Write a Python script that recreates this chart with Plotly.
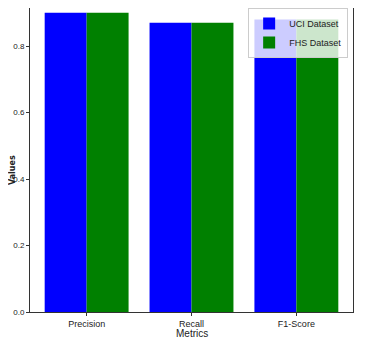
import plotly.graph_objects as go

metrics = ["Precision", "Recall", "F1-Score"]
uci_values = [0.90, 0.87, 0.88]
fhs_values = [0.90, 0.87, 0.88]
y_ticks = [0.0, 0.2, 0.4, 0.6, 0.8]
y_tick_labels = ["0.0", "0.2", "0.4", "0.6", "0.8"]

font_family = "Liberation Sans Narrow, Arial Narrow, Liberation Sans, sans-serif"

fig = go.Figure()
fig.add_trace(go.Bar(x=metrics, y=uci_values, name="UCI Dataset",
                     marker=dict(color="#0000ff", line=dict(width=0))))
fig.add_trace(go.Bar(x=metrics, y=fhs_values, name="FHS Dataset",
                     marker=dict(color="#008000", line=dict(width=0))))

fig.update_layout(
    width=358, height=332,
    margin=dict(l=22, r=13, t=0, b=28, autoexpand=False),
    paper_bgcolor="white", plot_bgcolor="white",
    barmode="group", bargap=0.2, bargroupgap=0,
    font=dict(family=font_family, size=9, color="#222"),
    legend=dict(x=0.985, y=1.0, xanchor="right", yanchor="top",
                bgcolor="rgba(255,255,255,0.8)", bordercolor="#ccc", borderwidth=1,
                font=dict(size=9), tracegroupgap=0, itemwidth=30),
    xaxis=dict(
        automargin=False,
        showline=True, linecolor="#333", linewidth=1, mirror=False,
        ticks="outside", ticklen=3, tickcolor="#333",
        range=[-0.54, 2.54], showgrid=False,
    ),
    yaxis=dict(
        automargin=False,
        showline=True, linecolor="#333", linewidth=1, mirror=True,
        ticks="outside", ticklen=3, tickcolor="#333",
        tickfont=dict(size=8),
        range=[0, 0.9143], showgrid=False, zeroline=False,
        tickmode="array", tickvals=y_ticks, ticktext=y_tick_labels,
    ),
    annotations=[
        dict(text="Metrics", xref="paper", yref="paper", x=0.5, y=0,
             yshift=-21, yanchor="middle", showarrow=False,
             font=dict(size=10, color="#222")),
        dict(text="<b>Values</b>", xref="paper", yref="paper", x=0, y=0.467,
             xshift=-18, xanchor="center", yanchor="middle", textangle=-90,
             showarrow=False, font=dict(size=8, color="#222", family="DejaVu Sans, sans-serif")),
    ],
)

fig.write_html("out.html")
